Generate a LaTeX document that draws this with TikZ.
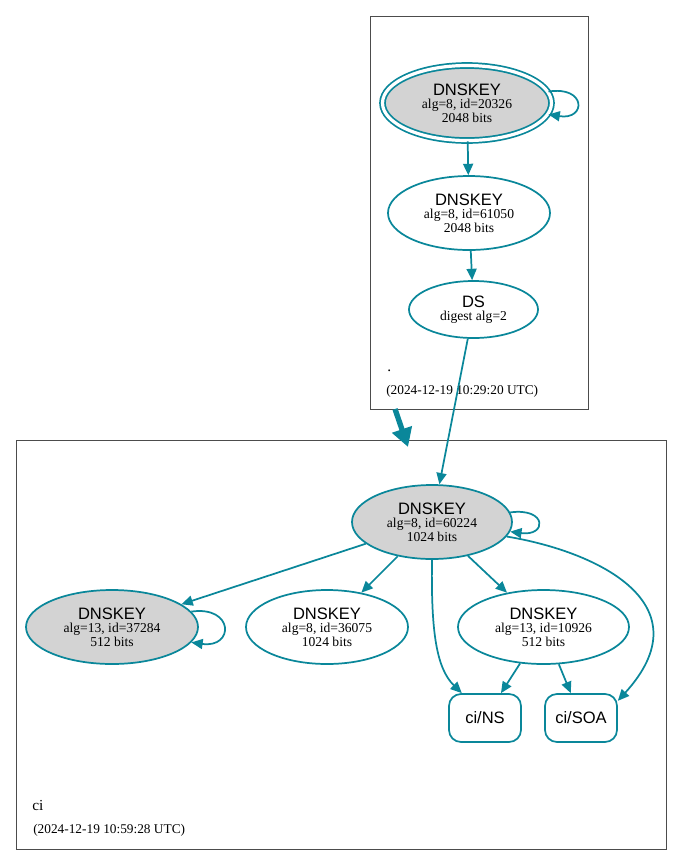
\documentclass[tikz,border=0pt]{standalone}
\usepackage{fontspec}
\setmainfont{Liberation Serif}
\setsansfont{Liberation Sans}
\usepackage{tikz}
\usetikzlibrary{arrows.meta,shapes.geometric}

\definecolor{dnsteal}{RGB}{10,135,154}
\definecolor{keygray}{RGB}{211,211,211}

\tikzset{
  zonebox/.style={draw=black!70, line width=0.6pt},
  keynode/.style={ellipse, draw=dnsteal, line width=1.3pt, inner sep=0pt, align=center,
    minimum width=121.5pt, minimum height=55.5pt, font=\fontsize{10.2}{10}\selectfont},
  sepkey/.style={keynode, fill=keygray},
  rrnode/.style={rectangle, rounded corners=9pt, draw=dnsteal, line width=1.3pt,
    minimum width=54pt, minimum height=36pt, inner sep=0pt, font=\sffamily\fontsize{12.4}{14}\selectfont},
  sigedge/.style={draw=dnsteal, line width=1.3pt, -{Triangle[length=8.5pt,width=7.5pt]}},
  zonelabel/.style={anchor=base west, inner sep=0pt, font=\fontsize{11.5}{12}\selectfont},
  stamplabel/.style={anchor=base west, inner sep=0pt, font=\fontsize{10}{12}\selectfont}
}
\newcommand{\keyhead}{{\sffamily\fontsize{12.4}{12}\selectfont DNSKEY}}

\begin{document}
\begin{tikzpicture}[x=0.75pt,y=0.75pt,yscale=-1,xscale=1]
\useasboundingbox (0,0) rectangle (683,865);

%Zone boxes
\draw[zonebox] (370,16) rectangle (588,409);
\draw[zonebox] (16,440) rectangle (666,849);

%Root zone nodes
\node[sepkey, double=white, double distance=2.4pt, minimum width=126.75pt, minimum height=56.25pt] (rootksk) at (467,103) {\keyhead\\alg=8, id=20326\\2048 bits};
\node[keynode] (rootzsk) at (469,213) {\keyhead\\alg=8, id=61050\\2048 bits};
\node[keynode, minimum width=96.75pt, minimum height=42.75pt] (cids) at (473.5,309.5) {{\sffamily\fontsize{12.4}{12}\selectfont DS}\\digest alg=2};

% Text Node
\node[zonelabel] (rootname) at (387,371) {.};
\node[stamplabel] (rootstamp) at (386,394) {(2024-12-19 10:29:20 UTC)};

%ci zone nodes
\node[sepkey, minimum width=120pt] (ciksk) at (432,522) {\keyhead\\alg=8, id=60224\\1024 bits};
\node[sepkey, minimum width=129pt] (cikskb) at (112,627) {\keyhead\\alg=13, id=37284\\512 bits};
\node[keynode] (cizska) at (327,627) {\keyhead\\alg=8, id=36075\\1024 bits};
\node[keynode, minimum width=128.25pt] (cizskb) at (543.5,627) {\keyhead\\alg=13, id=10926\\512 bits};
\node[rrnode] (cins) at (485,718) {ci/NS};
\node[rrnode] (cisoa) at (581,718) {ci/SOA};

% Text Node
\node[zonelabel] (ciname) at (32,810) {ci};
\node[stamplabel] (cistamp) at (33,833) {(2024-12-19 10:59:28 UTC)};

%Root zone edges
\draw[sigedge] (rootksk.8) .. controls +(38,-6) and +(38,6) .. (rootksk.-8);
\draw[sigedge] (rootksk) -- (rootzsk);
\draw[sigedge] (rootzsk) -- (cids);

%Delegation
\coordinate (delegtail) at (395,409);
\coordinate (deleghead) at (408,447);
\draw[dnsteal, line width=4pt, -{Triangle[length=14pt,width=15pt]}] (delegtail) -- (deleghead);
\draw[sigedge] (cids) -- (ciksk);

%ci zone edges
\draw[sigedge] (ciksk.7) .. controls +(37,-5) and +(37,5) .. (ciksk.-7);
\draw[sigedge] (cikskb.11) .. controls +(43,-6) and +(43,6) .. (cikskb.-11);
\draw[sigedge] (ciksk) -- (cikskb);
\draw[sigedge] (ciksk) -- (cizska);
\draw[sigedge] (ciksk) -- (cizskb);
\draw[sigedge] (ciksk.-90) .. controls (431,630) and (436,668) .. (cins.133);
\draw[sigedge] (ciksk.-11) .. controls (600,552) and (705,605) .. (cisoa.25);
\draw[sigedge] (cizskb) -- (cins);
\draw[sigedge] (cizskb) -- (cisoa);

\end{tikzpicture}
\end{document}
